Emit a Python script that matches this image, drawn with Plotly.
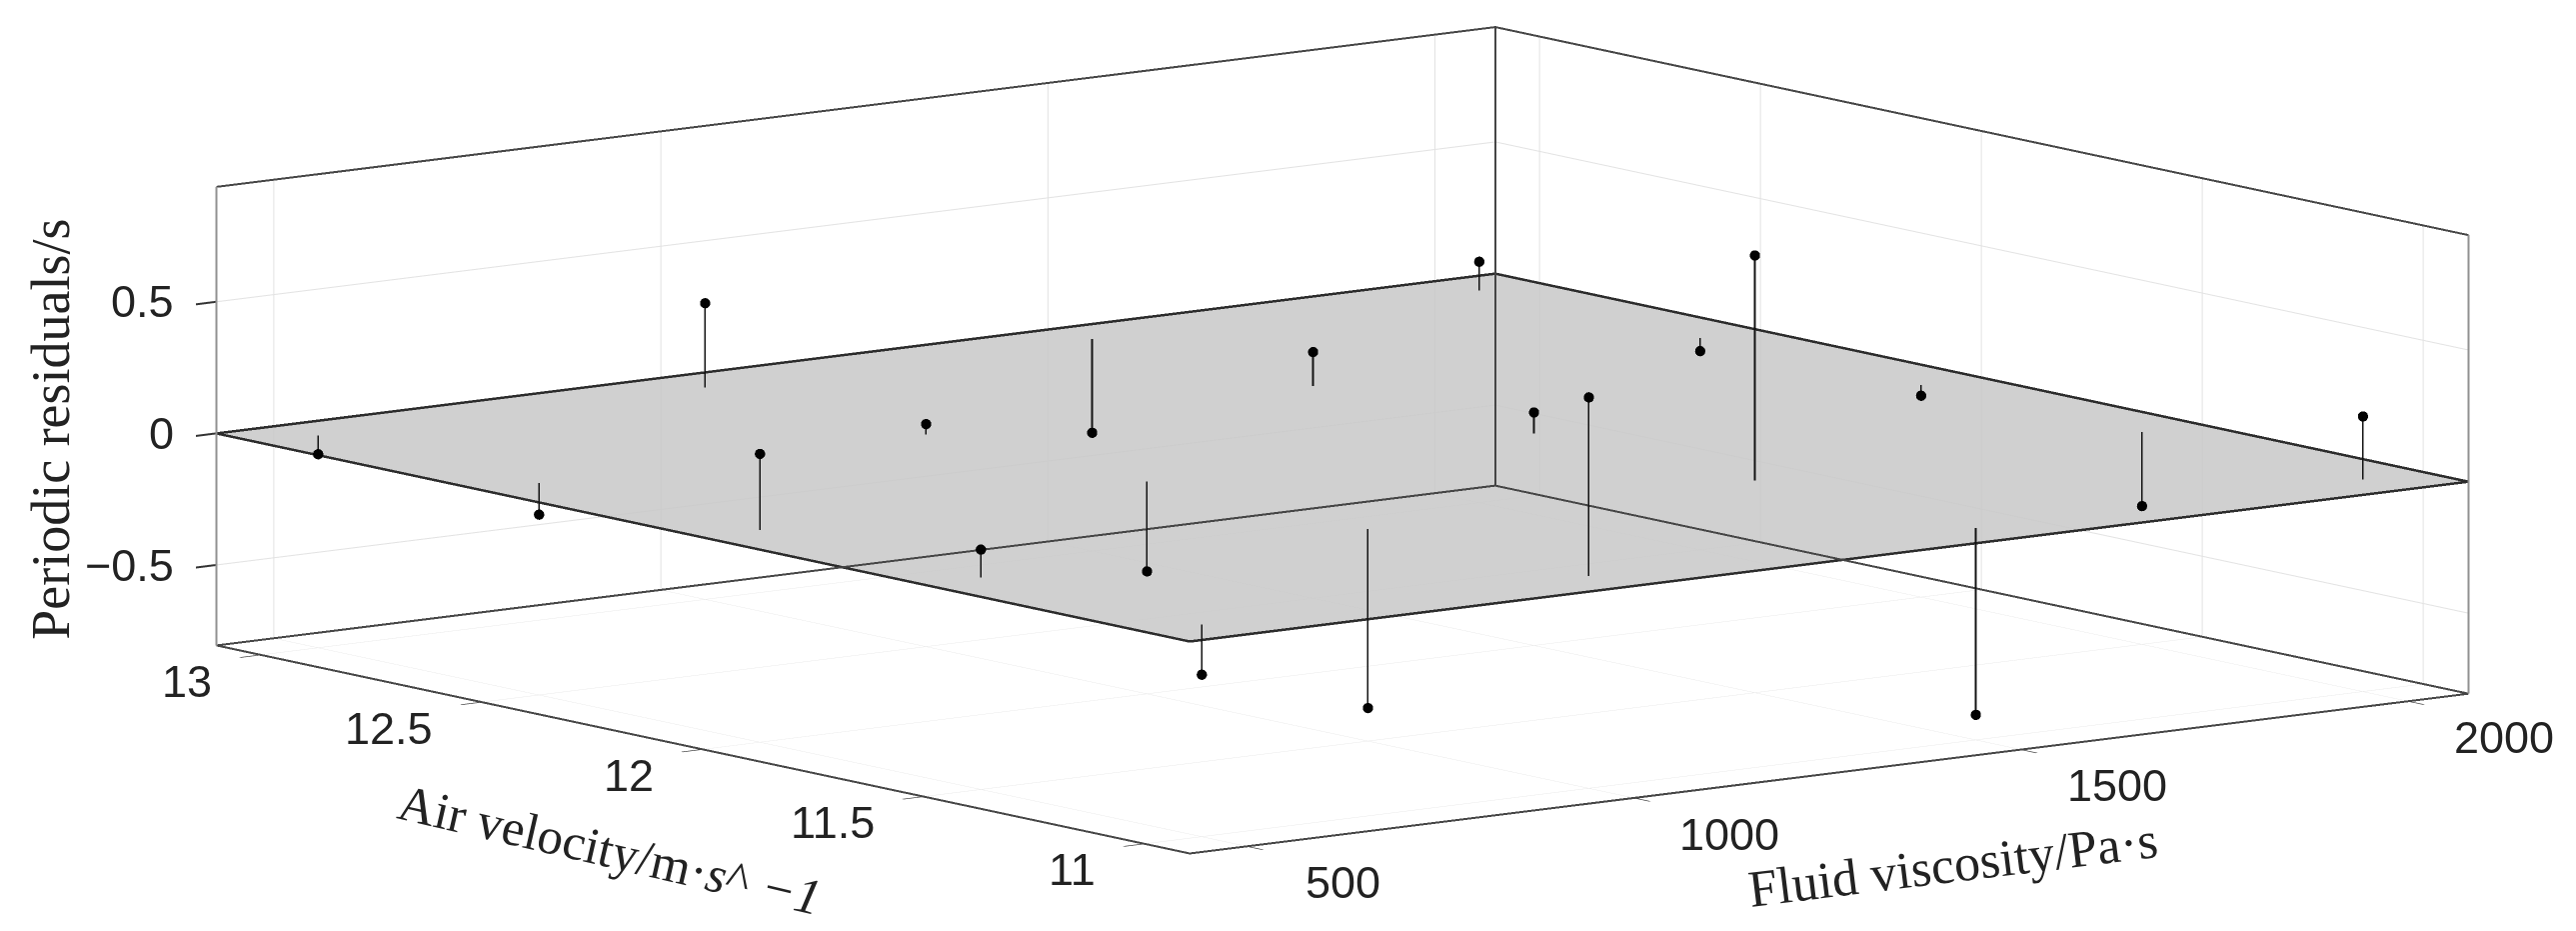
import plotly.graph_objects as go
import math

viscosity = [500, 1000, 1500, 2000]
air_velocity = [11, 11.5, 12, 12.5, 13]
residuals = [
    [-0.19, 0.68, -0.71, 0.24],
    [0.106, -0.68, 0.856, -0.28],
    [0.29, -0.34, 0.08, -0.04],
    [-0.12, 0.04, 0.13, -0.05],
    [-0.07, 0.32, -0.356, 0.11],
]
x_range = [425, 2078]
y_range = [10.896, 13.1]
z_range = [-0.806, 0.9375]
z_ticks = [-0.5, 0, 0.5]
z_labels = ["\u22120.5", "0", "0.5"]
x_labels = ["500", "1000", "1500", "2000"]
y_labels = ["11", "11.5", "12", "12.5", "13"]

px, py, pz = [], [], []
sx, sy, sz = [], [], []
for j, v in enumerate(air_velocity):
    for i, m in enumerate(viscosity):
        r = residuals[j][i]
        px.append(m); py.append(v); pz.append(r)
        sx += [m, m, None]; sy += [v, v, None]; sz += [0, r, None]

# edges are inset a hair so the scene does not clip them at the axis limits
ex, ey, ez = 0.5, 0.0007, 0.0006
x0, x1 = x_range[0] + ex, x_range[1] - ex
y0, y1 = y_range[0] + ey, y_range[1] - ey
z0, z1 = z_range[0] + ez, z_range[1] - ez

fig = go.Figure()
fig.add_trace(go.Surface(
    x=[x0, x1], y=[y0, y1], z=[[0, 0], [0, 0]],
    colorscale=[[0, "#c8c8c8"], [1, "#c8c8c8"]], showscale=False, opacity=0.85,
    lighting=dict(ambient=1, diffuse=0, specular=0, fresnel=0),
    hoverinfo="skip",
))
fig.add_trace(go.Scatter3d(
    x=[x0, x1, x1, x0, x0], y=[y0, y0, y1, y1, y0], z=[0, 0, 0, 0, 0], opacity=0.99,
    mode="lines", line=dict(color="#2a2a2a", width=5), hoverinfo="skip", showlegend=False))
bx = [x0, x1, None, x0, x0, None, x1, x1, None, x0, x1, None, x1, x1, None, x0, x1, None, x1, x1]
by = [y0, y0, None, y0, y1, None, y0, y1, None, y1, y1, None, y1, y0, None, y1, y1, None, y1, y1]
bz = [z0, z0, None, z0, z0, None, z0, z0, None, z1, z1, None, z1, z1, None, z0, z0, None, z0, z1]
fig.add_trace(go.Scatter3d(x=bx, y=by, z=bz, mode="lines", opacity=0.99,
    line=dict(color="#444444", width=4), hoverinfo="skip", showlegend=False))
vx = [x1, x1, None, x0, x0]
vy = [y0, y0, None, y1, y1]
vz = [z0, z1, None, z0, z1]
fig.add_trace(go.Scatter3d(x=vx, y=vy, z=vz, mode="lines", opacity=0.99,
    line=dict(color="#8f8f8f", width=4), hoverinfo="skip", showlegend=False))
fig.add_trace(go.Scatter3d(x=sx, y=sy, z=sz, mode="lines", opacity=0.99,
    line=dict(color="#111111", width=3.5), hoverinfo="skip", showlegend=False))
fig.add_trace(go.Scatter3d(x=px, y=py, z=pz, mode="markers", opacity=0.99,
    marker=dict(color="#000000", size=6), showlegend=False))

A = math.radians(37.4)
e = math.radians(9.35)
d = 8
def ax(rng, **kw):
    return dict(range=rng, title=dict(text=""), showticklabels=False,
                showbackground=False, gridcolor="#e2e2e2", gridwidth=2, showline=False,
                zeroline=False, showspikes=False, ticks="outside", ticklen=25, tickwidth=4,
                tickcolor="#333333", autorange=False, **kw)

W, H = 2577, 931
def title(text, cx, cy, angle, size):
    return dict(text=text, xref="paper", yref="paper", x=cx/1568, y=1-cy/566, xanchor="center", yanchor="middle",
                textangle=angle, showarrow=False, font=dict(family="Liberation Serif", size=size, color="#222222"))

tickfont = dict(family="Liberation Sans", size=45, color="#222222")
notes = []
for m, t in zip(viscosity, x_labels):
    notes.append(dict(x=m, y=y_range[0], z=z_range[0], text=t, showarrow=False, font=tickfont,
                      xanchor="center", yanchor="middle", xshift=95, yshift=-36))
for v, t in zip(air_velocity, y_labels):
    notes.append(dict(x=x_range[0], y=v, z=z_range[0], text=t, showarrow=False, font=tickfont,
                      xanchor="right", yanchor="middle", xshift=-46, yshift=-26))
for c, t in zip(z_ticks, z_labels):
    notes.append(dict(x=x_range[0], y=y_range[1], z=c, text=t, showarrow=False, font=tickfont,
                      xanchor="right", yanchor="middle", xshift=-40, yshift=0))

fig.update_layout(
    width=W, height=H, margin=dict(l=0, r=0, t=0, b=0),
    paper_bgcolor="white", showlegend=False,
    annotations=[
        title("Fluid viscosity/Pa\u00b7s", 1184, 521, -7, 52),
        title("Air velocity/m\u00b7<i>s</i>^ <i>\u22121</i>", 366, 512, 13, 51),
        title("Periodic residuals/s", 26, 256, -90, 54),
    ],
    scene=dict(
        domain=dict(x=[0.0362, 1], y=[0.0644, 1]),
        aspectmode="manual", aspectratio=dict(x=3.70, y=3.683, z=1.068),
        camera=dict(projection=dict(type="orthographic"),
                    center=dict(x=0, y=0, z=-0.0075), up=dict(x=0, y=0, z=1),
                    eye=dict(x=-d*math.sin(A)*math.cos(e), y=-d*math.cos(A)*math.cos(e), z=d*math.sin(e))),
        xaxis=ax(x_range, tickvals=viscosity),
        yaxis=ax(y_range, tickvals=air_velocity),
        zaxis=ax(z_range, tickvals=z_ticks),
        annotations=notes,
    ),
)
fig.write_html("out.html")
